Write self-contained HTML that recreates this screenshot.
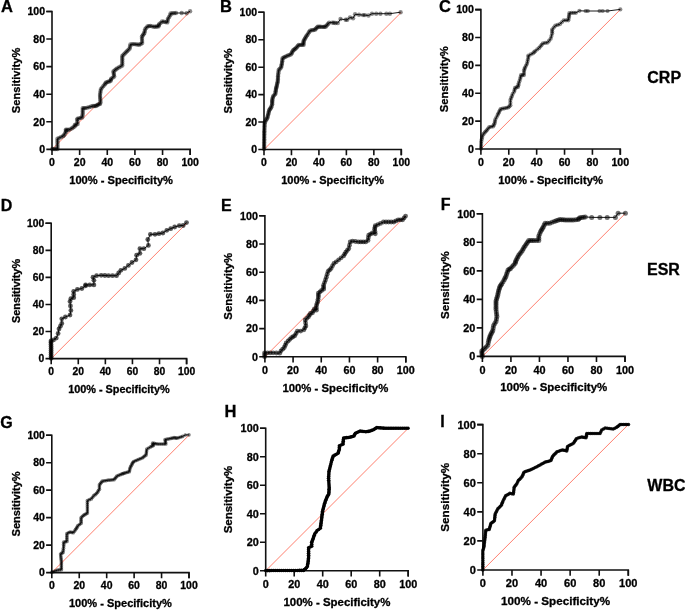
<!DOCTYPE html>
<html><head><meta charset="utf-8"><style>
html,body{margin:0;padding:0;background:#fff;}
svg{display:block;will-change:transform;}
text{stroke:#000;stroke-width:0.3px;}
</style></head><body>
<svg width="685" height="610" viewBox="0 0 685 610" font-family="'Liberation Sans', sans-serif" font-weight="bold" fill="#000">
<rect width="685" height="610" fill="#fff"/>
<line x1="52" y1="149.4" x2="190.2" y2="11.45" stroke="#ff7f6e" stroke-width="1"/>
<path d="M46.3,11.45H52V149.4H190.2V155.1" fill="none" stroke="#111" stroke-width="1.6"/>
<path d="M46.3,149.4H52M52,149.4V155.1M46.3,121.81H52M79.64,149.4V155.1M46.3,94.22H52M107.28,149.4V155.1M46.3,66.63H52M134.92,149.4V155.1M46.3,39.04H52M162.56,149.4V155.1M46.3,11.45H52M190.2,149.4V155.1" fill="none" stroke="#111" stroke-width="1.6"/>
<g font-size="10.52"><text x="45" y="153.16" text-anchor="end">0</text><text x="52" y="166.33" text-anchor="middle">0</text><text x="45" y="125.57" text-anchor="end">20</text><text x="79.64" y="166.33" text-anchor="middle">20</text><text x="45" y="97.98" text-anchor="end">40</text><text x="107.28" y="166.33" text-anchor="middle">40</text><text x="45" y="70.39" text-anchor="end">60</text><text x="134.92" y="166.33" text-anchor="middle">60</text><text x="45" y="42.8" text-anchor="end">80</text><text x="162.56" y="166.33" text-anchor="middle">80</text><text x="45" y="15.21" text-anchor="end">100</text><text x="190.2" y="166.33" text-anchor="middle">100</text></g>
<text x="121.1" y="183.96" text-anchor="middle" font-size="11.12">100% - Specificity%</text>
<text transform="translate(19.7,80.42) rotate(-90)" text-anchor="middle" font-size="11.12">Sensitivity%</text>
<g fill="#000" fill-opacity="0.45"><circle cx="52.3" cy="149" r="2.2"/><circle cx="54.03" cy="149" r="2.2"/><circle cx="55.77" cy="149" r="2.2"/><circle cx="57.5" cy="149" r="2.2"/><circle cx="57.5" cy="146.94" r="2.2"/><circle cx="57.5" cy="144.88" r="2.2"/><circle cx="57.5" cy="142.82" r="2.2"/><circle cx="57.5" cy="140.76" r="2.2"/><circle cx="57.5" cy="138.7" r="2.2"/><circle cx="59.37" cy="137.83" r="2.2"/><circle cx="61.23" cy="136.97" r="2.2"/><circle cx="63.1" cy="136.1" r="2.2"/><circle cx="64" cy="135.2" r="2.2"/><circle cx="64.95" cy="133.55" r="2.2"/><circle cx="65.9" cy="131.9" r="2.2"/><circle cx="65.9" cy="130.75" r="2.2"/><circle cx="65.9" cy="129.6" r="2.2"/><circle cx="67.3" cy="129.8" r="2.2"/><circle cx="68.7" cy="130" r="2.2"/><circle cx="70.35" cy="129.1" r="2.2"/><circle cx="72" cy="128.2" r="2.2"/><circle cx="73.4" cy="127.25" r="2.2"/><circle cx="74.8" cy="126.3" r="2.2"/><circle cx="74.8" cy="124.9" r="2.2"/><circle cx="76.2" cy="124.45" r="2.2"/><circle cx="77.6" cy="124" r="2.2"/><circle cx="77.35" cy="121.9" r="2.2"/><circle cx="77.1" cy="119.8" r="2.2"/><circle cx="77.6" cy="118.8" r="2.2"/><circle cx="79.13" cy="118.33" r="2.2"/><circle cx="80.67" cy="117.87" r="2.2"/><circle cx="82.2" cy="117.4" r="2.2"/><circle cx="82.45" cy="115.55" r="2.2"/><circle cx="82.7" cy="113.7" r="2.2"/><circle cx="82.7" cy="111.83" r="2.2"/><circle cx="82.7" cy="109.97" r="2.2"/><circle cx="82.7" cy="108.1" r="2.2"/><circle cx="84.1" cy="108.1" r="2.2"/><circle cx="85.5" cy="108.1" r="2.2"/><circle cx="87.4" cy="107.6" r="2.2"/><circle cx="89.3" cy="107.1" r="2.2"/><circle cx="91.15" cy="106.55" r="2.2"/><circle cx="93" cy="106" r="2.2"/><circle cx="94.4" cy="106" r="2.2"/><circle cx="95.8" cy="106" r="2.2"/><circle cx="96.75" cy="105.4" r="2.2"/><circle cx="97.7" cy="104.8" r="2.2"/><circle cx="98.85" cy="104.35" r="2.2"/><circle cx="100" cy="103.9" r="2.2"/><circle cx="100.5" cy="102.5" r="2.2"/><circle cx="100.38" cy="100.62" r="2.2"/><circle cx="100.25" cy="98.75" r="2.2"/><circle cx="100.12" cy="96.88" r="2.2"/><circle cx="100" cy="95" r="2.2"/><circle cx="100.3" cy="93.03" r="2.2"/><circle cx="100.6" cy="91.07" r="2.2"/><circle cx="100.9" cy="89.1" r="2.2"/><circle cx="102.13" cy="87.6" r="2.2"/><circle cx="103.37" cy="86.1" r="2.2"/><circle cx="104.6" cy="84.6" r="2.2"/><circle cx="105.35" cy="83.5" r="2.2"/><circle cx="106.1" cy="82.4" r="2.2"/><circle cx="107.57" cy="81.93" r="2.2"/><circle cx="109.03" cy="81.47" r="2.2"/><circle cx="110.5" cy="81" r="2.2"/><circle cx="110.85" cy="79.85" r="2.2"/><circle cx="111.2" cy="78.7" r="2.2"/><circle cx="112.7" cy="77.6" r="2.2"/><circle cx="114.2" cy="76.5" r="2.2"/><circle cx="113.93" cy="74.8" r="2.2"/><circle cx="113.67" cy="73.1" r="2.2"/><circle cx="113.4" cy="71.4" r="2.2"/><circle cx="114.63" cy="70.4" r="2.2"/><circle cx="115.87" cy="69.4" r="2.2"/><circle cx="117.1" cy="68.4" r="2.2"/><circle cx="118.83" cy="67.43" r="2.2"/><circle cx="120.57" cy="66.47" r="2.2"/><circle cx="122.3" cy="65.5" r="2.2"/><circle cx="122.3" cy="63.53" r="2.2"/><circle cx="122.3" cy="61.57" r="2.2"/><circle cx="122.3" cy="59.6" r="2.2"/><circle cx="122.3" cy="57.75" r="2.2"/><circle cx="122.3" cy="55.9" r="2.2"/><circle cx="123.53" cy="54.67" r="2.2"/><circle cx="124.77" cy="53.43" r="2.2"/><circle cx="126" cy="52.2" r="2.2"/><circle cx="127.23" cy="50.97" r="2.2"/><circle cx="128.47" cy="49.73" r="2.2"/><circle cx="129.7" cy="48.5" r="2.2"/><circle cx="130.05" cy="46.5" r="2.2"/><circle cx="130.4" cy="44.5" r="2.2"/><circle cx="132.25" cy="44.3" r="2.2"/><circle cx="134.1" cy="44.1" r="2.2"/><circle cx="135.8" cy="44.33" r="2.2"/><circle cx="137.5" cy="44.57" r="2.2"/><circle cx="139.2" cy="44.8" r="2.2"/><circle cx="140.7" cy="43.95" r="2.2"/><circle cx="142.2" cy="43.1" r="2.2"/><circle cx="142.1" cy="40.97" r="2.2"/><circle cx="142" cy="38.83" r="2.2"/><circle cx="141.9" cy="36.7" r="2.2"/><circle cx="142.73" cy="35.47" r="2.2"/><circle cx="143.57" cy="34.23" r="2.2"/><circle cx="144.4" cy="33" r="2.2"/><circle cx="144.75" cy="31.15" r="2.2"/><circle cx="145.1" cy="29.3" r="2.2"/><circle cx="146.25" cy="27.85" r="2.2"/><circle cx="147.4" cy="26.4" r="2.2"/><circle cx="148.85" cy="26.15" r="2.2"/><circle cx="150.3" cy="25.9" r="2.2"/><circle cx="152.15" cy="26.35" r="2.2"/><circle cx="154" cy="26.8" r="2.2"/><circle cx="155.47" cy="26.67" r="2.2"/><circle cx="156.93" cy="26.53" r="2.2"/><circle cx="158.4" cy="26.4" r="2.2"/><circle cx="158.8" cy="25.3" r="2.2"/><circle cx="159.2" cy="24.2" r="2.2"/><circle cx="160.65" cy="22.85" r="2.2"/><circle cx="162.1" cy="21.5" r="2.2"/><circle cx="163.83" cy="21.8" r="2.2"/><circle cx="165.57" cy="22.1" r="2.2"/><circle cx="167.3" cy="22.4" r="2.2"/><circle cx="167.65" cy="20.5" r="2.2"/><circle cx="168" cy="18.6" r="2.2"/><circle cx="169.1" cy="16.95" r="2.2"/><circle cx="170.2" cy="15.3" r="2.2"/><circle cx="170.6" cy="13.4" r="2.2"/><circle cx="172.4" cy="13.27" r="2.2"/><circle cx="174.2" cy="13.13" r="2.2"/><circle cx="176" cy="13" r="2.2"/><circle cx="181.7" cy="13" r="2.2"/><circle cx="186.6" cy="13.2" r="2.2"/><circle cx="190.1" cy="11.2" r="2.2"/></g>
<path d="M52.3,149 L57.5,149 L57.5,138.7 L63.1,136.1 L64,135.2 L65.9,131.9 L65.9,129.6 L68.7,130 L72,128.2 L74.8,126.3 L74.8,124.9 L77.6,124 L77.1,119.8 L77.6,118.8 L82.2,117.4 L82.7,113.7 L82.7,108.1 L85.5,108.1 L89.3,107.1 L93,106 L95.8,106 L97.7,104.8 L100,103.9 L100.5,102.5 L100,95 L100.9,89.1 L104.6,84.6 L106.1,82.4 L110.5,81 L111.2,78.7 L114.2,76.5 L113.4,71.4 L117.1,68.4 L122.3,65.5 L122.3,59.6 L122.3,55.9 L126,52.2 L129.7,48.5 L130.4,44.5 L134.1,44.1 L139.2,44.8 L142.2,43.1 L141.9,36.7 L144.4,33 L145.1,29.3 L147.4,26.4 L150.3,25.9 L154,26.8 L158.4,26.4 L159.2,24.2 L162.1,21.5 L167.3,22.4 L168,18.6 L170.2,15.3 L170.6,13.4 L176,13 L181.7,13 L186.6,13.2 L190.1,11.2" fill="none" stroke="#000" stroke-width="0.9" stroke-linejoin="round"/>
<line x1="264" y1="149.5" x2="401.3" y2="12.3" stroke="#ff7f6e" stroke-width="1"/>
<path d="M258.3,12.3H264V149.5H401.3V155.2" fill="none" stroke="#111" stroke-width="1.6"/>
<path d="M258.3,149.5H264M264,149.5V155.2M258.3,122.06H264M291.46,149.5V155.2M258.3,94.62H264M318.92,149.5V155.2M258.3,67.18H264M346.38,149.5V155.2M258.3,39.74H264M373.84,149.5V155.2M258.3,12.3H264M401.3,149.5V155.2" fill="none" stroke="#111" stroke-width="1.6"/>
<g font-size="10.45"><text x="257" y="153.24" text-anchor="end">0</text><text x="264" y="166.38" text-anchor="middle">0</text><text x="257" y="125.8" text-anchor="end">20</text><text x="291.46" y="166.38" text-anchor="middle">20</text><text x="257" y="98.36" text-anchor="end">40</text><text x="318.92" y="166.38" text-anchor="middle">40</text><text x="257" y="70.92" text-anchor="end">60</text><text x="346.38" y="166.38" text-anchor="middle">60</text><text x="257" y="43.48" text-anchor="end">80</text><text x="373.84" y="166.38" text-anchor="middle">80</text><text x="257" y="16.04" text-anchor="end">100</text><text x="401.3" y="166.38" text-anchor="middle">100</text></g>
<text x="332.65" y="184.01" text-anchor="middle" font-size="11.04">100% - Specificity%</text>
<text transform="translate(231.91,80.9) rotate(-90)" text-anchor="middle" font-size="11.04">Sensitivity%</text>
<g fill="#000" fill-opacity="0.45"><circle cx="264.1" cy="148.9" r="2.2"/><circle cx="264.12" cy="147.28" r="2.2"/><circle cx="264.14" cy="145.66" r="2.2"/><circle cx="264.16" cy="144.04" r="2.2"/><circle cx="264.18" cy="142.42" r="2.2"/><circle cx="264.2" cy="140.8" r="2.2"/><circle cx="264.22" cy="139.18" r="2.2"/><circle cx="264.24" cy="137.56" r="2.2"/><circle cx="264.26" cy="135.94" r="2.2"/><circle cx="264.28" cy="134.32" r="2.2"/><circle cx="264.3" cy="132.7" r="2.2"/><circle cx="264.35" cy="131.17" r="2.2"/><circle cx="264.4" cy="129.63" r="2.2"/><circle cx="264.45" cy="128.1" r="2.2"/><circle cx="264.5" cy="126.57" r="2.2"/><circle cx="264.55" cy="125.03" r="2.2"/><circle cx="264.6" cy="123.5" r="2.2"/><circle cx="265.1" cy="122" r="2.2"/><circle cx="265.6" cy="120.5" r="2.2"/><circle cx="266.35" cy="119.5" r="2.2"/><circle cx="267.1" cy="118.5" r="2.2"/><circle cx="267.47" cy="117.13" r="2.2"/><circle cx="267.83" cy="115.77" r="2.2"/><circle cx="268.2" cy="114.4" r="2.2"/><circle cx="268.53" cy="113.03" r="2.2"/><circle cx="268.87" cy="111.67" r="2.2"/><circle cx="269.2" cy="110.3" r="2.2"/><circle cx="269.87" cy="109.3" r="2.2"/><circle cx="270.53" cy="108.3" r="2.2"/><circle cx="271.2" cy="107.3" r="2.2"/><circle cx="271.7" cy="105.75" r="2.2"/><circle cx="272.2" cy="104.2" r="2.2"/><circle cx="272.2" cy="102.87" r="2.2"/><circle cx="272.2" cy="101.53" r="2.2"/><circle cx="272.2" cy="100.2" r="2.2"/><circle cx="272.53" cy="98.83" r="2.2"/><circle cx="272.87" cy="97.47" r="2.2"/><circle cx="273.2" cy="96.1" r="2.2"/><circle cx="274.25" cy="95.1" r="2.2"/><circle cx="275.3" cy="94.1" r="2.2"/><circle cx="275.47" cy="92.73" r="2.2"/><circle cx="275.63" cy="91.37" r="2.2"/><circle cx="275.8" cy="90" r="2.2"/><circle cx="276.07" cy="88.8" r="2.2"/><circle cx="276.33" cy="87.6" r="2.2"/><circle cx="276.6" cy="86.4" r="2.2"/><circle cx="276.9" cy="85.08" r="2.2"/><circle cx="277.2" cy="83.75" r="2.2"/><circle cx="277.5" cy="82.42" r="2.2"/><circle cx="277.8" cy="81.1" r="2.2"/><circle cx="277.88" cy="79.6" r="2.2"/><circle cx="277.95" cy="78.1" r="2.2"/><circle cx="278.03" cy="76.6" r="2.2"/><circle cx="278.1" cy="75.1" r="2.2"/><circle cx="278.33" cy="73.33" r="2.2"/><circle cx="278.57" cy="71.57" r="2.2"/><circle cx="278.8" cy="69.8" r="2.2"/><circle cx="279.95" cy="68.65" r="2.2"/><circle cx="281.1" cy="67.5" r="2.2"/><circle cx="281.4" cy="66" r="2.2"/><circle cx="281.7" cy="64.5" r="2.2"/><circle cx="282" cy="63" r="2.2"/><circle cx="282.2" cy="61.37" r="2.2"/><circle cx="282.4" cy="59.73" r="2.2"/><circle cx="282.6" cy="58.1" r="2.2"/><circle cx="283.87" cy="57.47" r="2.2"/><circle cx="285.13" cy="56.83" r="2.2"/><circle cx="286.4" cy="56.2" r="2.2"/><circle cx="287.97" cy="55.57" r="2.2"/><circle cx="289.53" cy="54.93" r="2.2"/><circle cx="291.1" cy="54.3" r="2.2"/><circle cx="291.73" cy="53.03" r="2.2"/><circle cx="292.37" cy="51.77" r="2.2"/><circle cx="293" cy="50.5" r="2.2"/><circle cx="293.97" cy="49.77" r="2.2"/><circle cx="294.93" cy="49.03" r="2.2"/><circle cx="295.9" cy="48.3" r="2.2"/><circle cx="296.83" cy="47.17" r="2.2"/><circle cx="297.77" cy="46.03" r="2.2"/><circle cx="298.7" cy="44.9" r="2.2"/><circle cx="300.3" cy="44.9" r="2.2"/><circle cx="301.9" cy="44.9" r="2.2"/><circle cx="303.5" cy="44.9" r="2.2"/><circle cx="303.5" cy="43.63" r="2.2"/><circle cx="303.5" cy="42.37" r="2.2"/><circle cx="303.5" cy="41.1" r="2.2"/><circle cx="304.2" cy="39.9" r="2.2"/><circle cx="304.9" cy="38.7" r="2.2"/><circle cx="305.6" cy="37.5" r="2.2"/><circle cx="306.3" cy="36.3" r="2.2"/><circle cx="307.25" cy="34.88" r="2.2"/><circle cx="308.2" cy="33.45" r="2.2"/><circle cx="309.15" cy="32.02" r="2.2"/><circle cx="310.1" cy="30.6" r="2.2"/><circle cx="311.7" cy="30.3" r="2.2"/><circle cx="313.3" cy="30" r="2.2"/><circle cx="314.9" cy="29.7" r="2.2"/><circle cx="315.83" cy="28.73" r="2.2"/><circle cx="316.77" cy="27.77" r="2.2"/><circle cx="317.7" cy="26.8" r="2.2"/><circle cx="319.1" cy="26.8" r="2.2"/><circle cx="320.5" cy="26.8" r="2.2"/><circle cx="322.05" cy="26.85" r="2.2"/><circle cx="323.6" cy="26.9" r="2.2"/><circle cx="324.75" cy="26.7" r="2.2"/><circle cx="325.9" cy="26.5" r="2.2"/><circle cx="326.97" cy="25.2" r="2.2"/><circle cx="328.03" cy="23.9" r="2.2"/><circle cx="329.1" cy="22.6" r="2.2"/><circle cx="332.2" cy="22.6" r="2.2"/><circle cx="333.8" cy="22.8" r="2.2"/><circle cx="335.4" cy="23" r="2.2"/><circle cx="337.8" cy="23" r="2.2"/><circle cx="340.5" cy="19" r="2.2"/><circle cx="345.6" cy="19.8" r="2.2"/><circle cx="347.2" cy="19.8" r="2.2"/><circle cx="350" cy="17.5" r="2.2"/><circle cx="353.1" cy="18.2" r="2.2"/><circle cx="355.1" cy="14.3" r="2.2"/><circle cx="359" cy="14.7" r="2.2"/><circle cx="363" cy="15.1" r="2.2"/><circle cx="364.9" cy="15.1" r="2.2"/><circle cx="368.5" cy="15.5" r="2.2"/><circle cx="372" cy="13.7" r="2.2"/><circle cx="376.2" cy="13.7" r="2.2"/><circle cx="380.4" cy="13.7" r="2.2"/><circle cx="386.4" cy="13.7" r="2.2"/><circle cx="389.9" cy="13.7" r="2.2"/><circle cx="400.6" cy="12.2" r="2.2"/></g>
<path d="M264.1,148.9 L264.3,132.7 L264.6,123.5 L265.6,120.5 L267.1,118.5 L268.2,114.4 L269.2,110.3 L271.2,107.3 L272.2,104.2 L272.2,100.2 L273.2,96.1 L275.3,94.1 L275.8,90 L276.6,86.4 L277.8,81.1 L278.1,75.1 L278.8,69.8 L281.1,67.5 L282,63 L282.6,58.1 L286.4,56.2 L291.1,54.3 L293,50.5 L295.9,48.3 L298.7,44.9 L303.5,44.9 L303.5,41.1 L306.3,36.3 L310.1,30.6 L314.9,29.7 L317.7,26.8 L320.5,26.8 L323.6,26.9 L325.9,26.5 L329.1,22.6 L332.2,22.6 L333.8,22.8 L335.4,23 L337.8,23 L340.5,19 L345.6,19.8 L347.2,19.8 L350,17.5 L353.1,18.2 L355.1,14.3 L359,14.7 L363,15.1 L364.9,15.1 L368.5,15.5 L372,13.7 L376.2,13.7 L380.4,13.7 L386.4,13.7 L389.9,13.7 L400.6,12.2" fill="none" stroke="#000" stroke-width="0.9" stroke-linejoin="round"/>
<line x1="480.9" y1="149" x2="620.3" y2="9.6" stroke="#ff7f6e" stroke-width="1"/>
<path d="M475.2,9.6H480.9V149H620.3V154.7" fill="none" stroke="#111" stroke-width="1.6"/>
<path d="M475.2,149H480.9M480.9,149V154.7M475.2,121.12H480.9M508.78,149V154.7M475.2,93.24H480.9M536.66,149V154.7M475.2,65.36H480.9M564.54,149V154.7M475.2,37.48H480.9M592.42,149V154.7M475.2,9.6H480.9M620.3,149V154.7" fill="none" stroke="#111" stroke-width="1.6"/>
<g font-size="10.61"><text x="473.9" y="152.8" text-anchor="end">0</text><text x="480.9" y="165.99" text-anchor="middle">0</text><text x="473.9" y="124.92" text-anchor="end">20</text><text x="508.78" y="165.99" text-anchor="middle">20</text><text x="473.9" y="97.04" text-anchor="end">40</text><text x="536.66" y="165.99" text-anchor="middle">40</text><text x="473.9" y="69.16" text-anchor="end">60</text><text x="564.54" y="165.99" text-anchor="middle">60</text><text x="473.9" y="41.28" text-anchor="end">80</text><text x="592.42" y="165.99" text-anchor="middle">80</text><text x="473.9" y="13.4" text-anchor="end">100</text><text x="620.3" y="165.99" text-anchor="middle">100</text></g>
<text x="550.6" y="183.63" text-anchor="middle" font-size="11.21">100% - Specificity%</text>
<text transform="translate(448.32,79.3) rotate(-90)" text-anchor="middle" font-size="11.21">Sensitivity%</text>
<g fill="#000" fill-opacity="0.45"><circle cx="481" cy="148.7" r="2.1"/><circle cx="481.1" cy="146.3" r="2.1"/><circle cx="481.2" cy="143.9" r="2.1"/><circle cx="481.3" cy="141.5" r="2.1"/><circle cx="481.7" cy="139.47" r="2.1"/><circle cx="482.1" cy="137.43" r="2.1"/><circle cx="482.5" cy="135.4" r="2.1"/><circle cx="483.65" cy="133.9" r="2.1"/><circle cx="484.8" cy="132.4" r="2.1"/><circle cx="485.9" cy="131.25" r="2.1"/><circle cx="487" cy="130.1" r="2.1"/><circle cx="488.15" cy="128.6" r="2.1"/><circle cx="489.3" cy="127.1" r="2.1"/><circle cx="491.2" cy="126.75" r="2.1"/><circle cx="493.1" cy="126.4" r="2.1"/><circle cx="493.85" cy="124.9" r="2.1"/><circle cx="494.6" cy="123.4" r="2.1"/><circle cx="494.95" cy="121.5" r="2.1"/><circle cx="495.3" cy="119.6" r="2.1"/><circle cx="496.45" cy="117.35" r="2.1"/><circle cx="497.6" cy="115.1" r="2.1"/><circle cx="498.35" cy="113.55" r="2.1"/><circle cx="499.1" cy="112" r="2.1"/><circle cx="499.85" cy="110.5" r="2.1"/><circle cx="500.6" cy="109" r="2.1"/><circle cx="502.5" cy="108.65" r="2.1"/><circle cx="504.4" cy="108.3" r="2.1"/><circle cx="506.3" cy="107.9" r="2.1"/><circle cx="508.2" cy="107.5" r="2.1"/><circle cx="509.3" cy="106.4" r="2.1"/><circle cx="510.4" cy="105.3" r="2.1"/><circle cx="510.4" cy="102.65" r="2.1"/><circle cx="510.4" cy="100" r="2.1"/><circle cx="511.15" cy="98.1" r="2.1"/><circle cx="511.9" cy="96.2" r="2.1"/><circle cx="512.7" cy="93.9" r="2.1"/><circle cx="514.2" cy="91.7" r="2.1"/><circle cx="514.6" cy="89.8" r="2.1"/><circle cx="515" cy="87.9" r="2.1"/><circle cx="516.5" cy="87.4" r="2.1"/><circle cx="518" cy="86.9" r="2.1"/><circle cx="518.35" cy="85.15" r="2.1"/><circle cx="518.7" cy="83.4" r="2.1"/><circle cx="519.45" cy="81.15" r="2.1"/><circle cx="520.2" cy="78.9" r="2.1"/><circle cx="520.6" cy="77" r="2.1"/><circle cx="521" cy="75.1" r="2.1"/><circle cx="522.5" cy="75.1" r="2.1"/><circle cx="524" cy="75.1" r="2.1"/><circle cx="524" cy="72.85" r="2.1"/><circle cx="524" cy="70.6" r="2.1"/><circle cx="524.5" cy="69.1" r="2.1"/><circle cx="525" cy="67.6" r="2.1"/><circle cx="526" cy="65.7" r="2.1"/><circle cx="527" cy="63.8" r="2.1"/><circle cx="527.47" cy="61.57" r="2.1"/><circle cx="527.93" cy="59.33" r="2.1"/><circle cx="528.4" cy="57.1" r="2.1"/><circle cx="528.4" cy="55.6" r="2.1"/><circle cx="530.7" cy="54.45" r="2.1"/><circle cx="533" cy="53.3" r="2.1"/><circle cx="534.15" cy="52.15" r="2.1"/><circle cx="535.3" cy="51" r="2.1"/><circle cx="537.25" cy="49.45" r="2.1"/><circle cx="539.2" cy="47.9" r="2.1"/><circle cx="540.47" cy="46.37" r="2.1"/><circle cx="541.73" cy="44.83" r="2.1"/><circle cx="543" cy="43.3" r="2.1"/><circle cx="545.3" cy="42.95" r="2.1"/><circle cx="547.6" cy="42.6" r="2.1"/><circle cx="549.15" cy="40.65" r="2.1"/><circle cx="550.7" cy="38.7" r="2.1"/><circle cx="551.45" cy="36.05" r="2.1"/><circle cx="552.2" cy="33.4" r="2.1"/><circle cx="552.2" cy="31.45" r="2.1"/><circle cx="552.2" cy="29.5" r="2.1"/><circle cx="553.75" cy="27.6" r="2.1"/><circle cx="555.3" cy="25.7" r="2.1"/><circle cx="557.6" cy="24.95" r="2.1"/><circle cx="559.9" cy="24.2" r="2.1"/><circle cx="561.8" cy="22.25" r="2.1"/><circle cx="563.7" cy="20.3" r="2.1"/><circle cx="566" cy="20.3" r="2.1"/><circle cx="568.3" cy="20.3" r="2.1"/><circle cx="568.65" cy="18.4" r="2.1"/><circle cx="569" cy="16.5" r="2.1"/><circle cx="569.2" cy="14.75" r="2.1"/><circle cx="569.4" cy="13" r="2.1"/><circle cx="571.6" cy="12.9" r="2.1"/><circle cx="573.8" cy="12.8" r="2.1"/><circle cx="575.9" cy="12.8" r="2.1"/><circle cx="579.4" cy="10.8" r="2.1"/><circle cx="585.6" cy="11" r="2.1"/><circle cx="587.8" cy="11" r="2.1"/><circle cx="599.6" cy="11" r="2.1"/><circle cx="602.7" cy="11" r="2.1"/><circle cx="607.5" cy="11" r="2.1"/><circle cx="620.3" cy="9.4" r="2.1"/></g>
<path d="M481,148.7 L481.3,141.5 L482.5,135.4 L484.8,132.4 L487,130.1 L489.3,127.1 L493.1,126.4 L494.6,123.4 L495.3,119.6 L497.6,115.1 L499.1,112 L500.6,109 L504.4,108.3 L508.2,107.5 L510.4,105.3 L510.4,100 L511.9,96.2 L512.7,93.9 L514.2,91.7 L515,87.9 L518,86.9 L518.7,83.4 L520.2,78.9 L521,75.1 L524,75.1 L524,70.6 L525,67.6 L527,63.8 L528.4,57.1 L528.4,55.6 L533,53.3 L535.3,51 L539.2,47.9 L543,43.3 L547.6,42.6 L550.7,38.7 L552.2,33.4 L552.2,29.5 L555.3,25.7 L559.9,24.2 L563.7,20.3 L568.3,20.3 L569,16.5 L569.4,13 L573.8,12.8 L575.9,12.8 L579.4,10.8 L585.6,11 L587.8,11 L599.6,11 L602.7,11 L607.5,11 L620.3,9.4" fill="none" stroke="#000" stroke-width="0.9" stroke-linejoin="round"/>
<line x1="51.2" y1="358.6" x2="186.6" y2="223.3" stroke="#ff7f6e" stroke-width="1"/>
<path d="M45.5,223.3H51.2V358.6H186.6V364.3" fill="none" stroke="#111" stroke-width="1.6"/>
<path d="M45.5,358.6H51.2M51.2,358.6V364.3M45.5,331.54H51.2M78.28,358.6V364.3M45.5,304.48H51.2M105.36,358.6V364.3M45.5,277.42H51.2M132.44,358.6V364.3M45.5,250.36H51.2M159.52,358.6V364.3M45.5,223.3H51.2M186.6,358.6V364.3" fill="none" stroke="#111" stroke-width="1.6"/>
<g font-size="10.3"><text x="44.2" y="362.29" text-anchor="end">0</text><text x="51.2" y="375.38" text-anchor="middle">0</text><text x="44.2" y="335.23" text-anchor="end">20</text><text x="78.28" y="375.38" text-anchor="middle">20</text><text x="44.2" y="308.17" text-anchor="end">40</text><text x="105.36" y="375.38" text-anchor="middle">40</text><text x="44.2" y="281.11" text-anchor="end">60</text><text x="132.44" y="375.38" text-anchor="middle">60</text><text x="44.2" y="254.05" text-anchor="end">80</text><text x="159.52" y="375.38" text-anchor="middle">80</text><text x="44.2" y="226.99" text-anchor="end">100</text><text x="186.6" y="375.38" text-anchor="middle">100</text></g>
<text x="118.9" y="393" text-anchor="middle" font-size="10.89">100% - Specificity%</text>
<text transform="translate(19.56,290.95) rotate(-90)" text-anchor="middle" font-size="10.89">Sensitivity%</text>
<g fill="#000" fill-opacity="0.65"><circle cx="51.2" cy="358.3" r="2.4"/><circle cx="51.1" cy="356.5" r="2.4"/><circle cx="51.1" cy="354.5" r="2.4"/><circle cx="51.1" cy="352.5" r="2.4"/><circle cx="51.1" cy="350.5" r="2.4"/><circle cx="51.1" cy="348.5" r="2.4"/><circle cx="51.1" cy="346.5" r="2.4"/><circle cx="51" cy="344.5" r="2.4"/><circle cx="51" cy="342.5" r="2.4"/><circle cx="51" cy="341" r="2.4"/><circle cx="53.5" cy="339.9" r="2.4"/><circle cx="56.3" cy="338.1" r="2.4"/><circle cx="58.1" cy="333.5" r="2.4"/><circle cx="59" cy="328.9" r="2.4"/><circle cx="60.4" cy="326.15" r="2.4"/><circle cx="61.8" cy="323.4" r="2.4"/><circle cx="61.8" cy="318.8" r="2.4"/><circle cx="65.4" cy="317" r="2.4"/><circle cx="70" cy="315.1" r="2.4"/><circle cx="70.9" cy="310.5" r="2.4"/><circle cx="70.45" cy="305.95" r="2.4"/><circle cx="70" cy="301.4" r="2.4"/><circle cx="70.9" cy="298.6" r="2.4"/><circle cx="73.7" cy="297.7" r="2.4"/><circle cx="73.7" cy="294.5" r="2.4"/><circle cx="73.7" cy="291.3" r="2.4"/><circle cx="77.4" cy="289.4" r="2.4"/><circle cx="81.9" cy="288.5" r="2.4"/><circle cx="85.6" cy="285.8" r="2.4"/><circle cx="85.6" cy="284.9" r="2.4"/><circle cx="89.75" cy="284.9" r="2.4"/><circle cx="93.9" cy="284.9" r="2.4"/><circle cx="93.9" cy="280.3" r="2.4"/><circle cx="93" cy="277.2" r="2.4"/><circle cx="96.6" cy="275.7" r="2.4"/><circle cx="101.2" cy="275.3" r="2.4"/><circle cx="104.85" cy="275.5" r="2.4"/><circle cx="108.5" cy="275.7" r="2.4"/><circle cx="112.5" cy="275.7" r="2.4"/><circle cx="116.5" cy="275.7" r="2.4"/><circle cx="118.7" cy="273" r="2.4"/><circle cx="120.9" cy="270.3" r="2.4"/><circle cx="124.8" cy="268.4" r="2.4"/><circle cx="128.4" cy="265.45" r="2.4"/><circle cx="132" cy="262.5" r="2.4"/><circle cx="136" cy="259.8" r="2.4"/><circle cx="136.6" cy="255.2" r="2.4"/><circle cx="139.9" cy="253.3" r="2.4"/><circle cx="139.9" cy="248.7" r="2.4"/><circle cx="143.9" cy="248.7" r="2.4"/><circle cx="148.4" cy="245.4" r="2.4"/><circle cx="147.8" cy="239.5" r="2.4"/><circle cx="150.4" cy="234.3" r="2.4"/><circle cx="155" cy="234.3" r="2.4"/><circle cx="158.95" cy="233.65" r="2.4"/><circle cx="162.9" cy="233" r="2.4"/><circle cx="166.8" cy="230.3" r="2.4"/><circle cx="170.75" cy="228.65" r="2.4"/><circle cx="174.7" cy="227" r="2.4"/><circle cx="179.3" cy="225.7" r="2.4"/><circle cx="183.2" cy="225.5" r="2.4"/><circle cx="186.5" cy="222.6" r="2.4"/></g>
<path d="M51.2,358.3 L51.1,356.5 L51.1,354.5 L51.1,352.5 L51.1,350.5 L51.1,348.5 L51.1,346.5 L51,344.5 L51,342.5 L51,341 L53.5,339.9 L56.3,338.1 L58.1,333.5 L59,328.9 L61.8,323.4 L61.8,318.8 L65.4,317 L70,315.1 L70.9,310.5 L70,301.4 L70.9,298.6 L73.7,297.7 L73.7,291.3 L77.4,289.4 L81.9,288.5 L85.6,285.8 L85.6,284.9 L93.9,284.9 L93.9,280.3 L93,277.2 L96.6,275.7 L101.2,275.3 L108.5,275.7 L116.5,275.7 L120.9,270.3 L124.8,268.4 L132,262.5 L136,259.8 L136.6,255.2 L139.9,253.3 L139.9,248.7 L143.9,248.7 L148.4,245.4 L147.8,239.5 L150.4,234.3 L155,234.3 L162.9,233 L166.8,230.3 L174.7,227 L179.3,225.7 L183.2,225.5 L186.5,222.6" fill="none" stroke="#000" stroke-width="0.9" stroke-linejoin="round"/>
<line x1="264.9" y1="356.8" x2="405.8" y2="215.8" stroke="#ff7f6e" stroke-width="1"/>
<path d="M259.2,215.8H264.9V356.8H405.8V362.5" fill="none" stroke="#111" stroke-width="1.6"/>
<path d="M259.2,356.8H264.9M264.9,356.8V362.5M259.2,328.6H264.9M293.08,356.8V362.5M259.2,300.4H264.9M321.26,356.8V362.5M259.2,272.2H264.9M349.44,356.8V362.5M259.2,244H264.9M377.62,356.8V362.5M259.2,215.8H264.9M405.8,356.8V362.5" fill="none" stroke="#111" stroke-width="1.6"/>
<g font-size="10.72"><text x="257.9" y="360.64" text-anchor="end">0</text><text x="264.9" y="373.88" text-anchor="middle">0</text><text x="257.9" y="332.44" text-anchor="end">20</text><text x="293.08" y="373.88" text-anchor="middle">20</text><text x="257.9" y="304.24" text-anchor="end">40</text><text x="321.26" y="373.88" text-anchor="middle">40</text><text x="257.9" y="276.04" text-anchor="end">60</text><text x="349.44" y="373.88" text-anchor="middle">60</text><text x="257.9" y="247.84" text-anchor="end">80</text><text x="377.62" y="373.88" text-anchor="middle">80</text><text x="257.9" y="219.64" text-anchor="end">100</text><text x="405.8" y="373.88" text-anchor="middle">100</text></g>
<text x="335.35" y="391.51" text-anchor="middle" font-size="11.33">100% - Specificity%</text>
<text transform="translate(231.97,286.3) rotate(-90)" text-anchor="middle" font-size="11.33">Sensitivity%</text>
<g fill="#000" fill-opacity="0.6"><circle cx="264.6" cy="356.7" r="2.4"/><circle cx="264.6" cy="354.75" r="2.4"/><circle cx="264.6" cy="352.8" r="2.4"/><circle cx="267.43" cy="352.8" r="2.4"/><circle cx="270.27" cy="352.8" r="2.4"/><circle cx="273.1" cy="352.8" r="2.4"/><circle cx="276.4" cy="353" r="2.4"/><circle cx="279.7" cy="353.2" r="2.4"/><circle cx="281" cy="350.8" r="2.4"/><circle cx="282.65" cy="349.15" r="2.4"/><circle cx="284.3" cy="347.5" r="2.4"/><circle cx="285.25" cy="345.25" r="2.4"/><circle cx="286.2" cy="343" r="2.4"/><circle cx="288.2" cy="341" r="2.4"/><circle cx="289.85" cy="339.35" r="2.4"/><circle cx="291.5" cy="337.7" r="2.4"/><circle cx="293.15" cy="336.7" r="2.4"/><circle cx="294.8" cy="335.7" r="2.4"/><circle cx="296.1" cy="333.4" r="2.4"/><circle cx="297.4" cy="331.1" r="2.4"/><circle cx="300.7" cy="331.1" r="2.4"/><circle cx="303.9" cy="329.8" r="2.4"/><circle cx="304.9" cy="327.85" r="2.4"/><circle cx="305.9" cy="325.9" r="2.4"/><circle cx="305.55" cy="322.95" r="2.4"/><circle cx="305.2" cy="320" r="2.4"/><circle cx="306.85" cy="318.35" r="2.4"/><circle cx="308.5" cy="316.7" r="2.4"/><circle cx="309.5" cy="315.05" r="2.4"/><circle cx="310.5" cy="313.4" r="2.4"/><circle cx="312.5" cy="312.8" r="2.4"/><circle cx="313.45" cy="310.85" r="2.4"/><circle cx="314.4" cy="308.9" r="2.4"/><circle cx="316.4" cy="310.2" r="2.4"/><circle cx="316.4" cy="307.9" r="2.4"/><circle cx="316.4" cy="305.6" r="2.4"/><circle cx="317.05" cy="303.6" r="2.4"/><circle cx="317.7" cy="301.6" r="2.4"/><circle cx="318.05" cy="299.3" r="2.4"/><circle cx="318.4" cy="297" r="2.4"/><circle cx="318.4" cy="295.05" r="2.4"/><circle cx="318.4" cy="293.1" r="2.4"/><circle cx="320" cy="291.8" r="2.4"/><circle cx="321.6" cy="290.5" r="2.4"/><circle cx="323.6" cy="289.2" r="2.4"/><circle cx="323.6" cy="287.2" r="2.4"/><circle cx="323.6" cy="285.2" r="2.4"/><circle cx="324.55" cy="282.6" r="2.4"/><circle cx="325.5" cy="280" r="2.4"/><circle cx="326.37" cy="277.13" r="2.4"/><circle cx="327.23" cy="274.27" r="2.4"/><circle cx="328.1" cy="271.4" r="2.4"/><circle cx="329.6" cy="269.9" r="2.4"/><circle cx="331.1" cy="268.4" r="2.4"/><circle cx="332.55" cy="265.85" r="2.4"/><circle cx="334" cy="263.3" r="2.4"/><circle cx="336.2" cy="261.8" r="2.4"/><circle cx="338.67" cy="259.83" r="2.4"/><circle cx="341.13" cy="257.87" r="2.4"/><circle cx="343.6" cy="255.9" r="2.4"/><circle cx="344.7" cy="254.05" r="2.4"/><circle cx="345.8" cy="252.2" r="2.4"/><circle cx="347.3" cy="250.35" r="2.4"/><circle cx="348.8" cy="248.5" r="2.4"/><circle cx="349.5" cy="245.2" r="2.4"/><circle cx="350.2" cy="241.9" r="2.4"/><circle cx="352.5" cy="241.1" r="2.4"/><circle cx="355.45" cy="241.5" r="2.4"/><circle cx="358.4" cy="241.9" r="2.4"/><circle cx="360.83" cy="241.9" r="2.4"/><circle cx="363.27" cy="241.9" r="2.4"/><circle cx="365.7" cy="241.9" r="2.4"/><circle cx="368" cy="240.4" r="2.4"/><circle cx="368.35" cy="237.8" r="2.4"/><circle cx="368.7" cy="235.2" r="2.4"/><circle cx="370.55" cy="234.1" r="2.4"/><circle cx="372.4" cy="233" r="2.4"/><circle cx="375.3" cy="233.8" r="2.4"/><circle cx="374.95" cy="231.55" r="2.4"/><circle cx="374.6" cy="229.3" r="2.4"/><circle cx="374.95" cy="227.5" r="2.4"/><circle cx="375.3" cy="225.7" r="2.4"/><circle cx="377.9" cy="224.55" r="2.4"/><circle cx="380.5" cy="223.4" r="2.4"/><circle cx="383.4" cy="222" r="2.4"/><circle cx="386" cy="222" r="2.4"/><circle cx="388.6" cy="222" r="2.4"/><circle cx="391.2" cy="222" r="2.4"/><circle cx="393.8" cy="222" r="2.4"/><circle cx="396" cy="220.9" r="2.4"/><circle cx="398.2" cy="219.8" r="2.4"/><circle cx="400.4" cy="219.8" r="2.4"/><circle cx="402.6" cy="219.8" r="2.4"/><circle cx="404.1" cy="217.95" r="2.4"/><circle cx="405.6" cy="216.1" r="2.4"/></g>
<path d="M264.6,356.7 L264.6,352.8 L273.1,352.8 L279.7,353.2 L281,350.8 L284.3,347.5 L286.2,343 L288.2,341 L291.5,337.7 L294.8,335.7 L297.4,331.1 L300.7,331.1 L303.9,329.8 L305.9,325.9 L305.2,320 L308.5,316.7 L310.5,313.4 L312.5,312.8 L314.4,308.9 L316.4,310.2 L316.4,305.6 L317.7,301.6 L318.4,297 L318.4,293.1 L321.6,290.5 L323.6,289.2 L323.6,285.2 L325.5,280 L328.1,271.4 L331.1,268.4 L334,263.3 L336.2,261.8 L343.6,255.9 L345.8,252.2 L348.8,248.5 L350.2,241.9 L352.5,241.1 L358.4,241.9 L365.7,241.9 L368,240.4 L368.7,235.2 L372.4,233 L375.3,233.8 L374.6,229.3 L375.3,225.7 L380.5,223.4 L383.4,222 L388.6,222 L393.8,222 L398.2,219.8 L402.6,219.8 L405.6,216.1" fill="none" stroke="#000" stroke-width="0.9" stroke-linejoin="round"/>
<line x1="482.4" y1="356.4" x2="625" y2="213.8" stroke="#ff7f6e" stroke-width="1"/>
<path d="M476.7,213.8H482.4V356.4H625V362.1" fill="none" stroke="#111" stroke-width="1.6"/>
<path d="M476.7,356.4H482.4M482.4,356.4V362.1M476.7,327.88H482.4M510.92,356.4V362.1M476.7,299.36H482.4M539.44,356.4V362.1M476.7,270.84H482.4M567.96,356.4V362.1M476.7,242.32H482.4M596.48,356.4V362.1M476.7,213.8H482.4M625,356.4V362.1" fill="none" stroke="#111" stroke-width="1.6"/>
<g font-size="10.85"><text x="475.4" y="360.28" text-anchor="end">0</text><text x="482.4" y="373.57" text-anchor="middle">0</text><text x="475.4" y="331.76" text-anchor="end">20</text><text x="510.92" y="373.57" text-anchor="middle">20</text><text x="475.4" y="303.24" text-anchor="end">40</text><text x="539.44" y="373.57" text-anchor="middle">40</text><text x="475.4" y="274.72" text-anchor="end">60</text><text x="567.96" y="373.57" text-anchor="middle">60</text><text x="475.4" y="246.2" text-anchor="end">80</text><text x="596.48" y="373.57" text-anchor="middle">80</text><text x="475.4" y="217.68" text-anchor="end">100</text><text x="625" y="373.57" text-anchor="middle">100</text></g>
<text x="553.7" y="391.21" text-anchor="middle" font-size="11.47">100% - Specificity%</text>
<text transform="translate(449.07,285.1) rotate(-90)" text-anchor="middle" font-size="11.47">Sensitivity%</text>
<g fill="#000" fill-opacity="0.55"><circle cx="482.2" cy="356.4" r="2.5"/><circle cx="482.07" cy="354.6" r="2.5"/><circle cx="481.93" cy="352.8" r="2.5"/><circle cx="481.8" cy="351" r="2.5"/><circle cx="483.2" cy="349.8" r="2.5"/><circle cx="484.6" cy="348.6" r="2.5"/><circle cx="486.2" cy="346.95" r="2.5"/><circle cx="487.8" cy="345.3" r="2.5"/><circle cx="488.25" cy="342.85" r="2.5"/><circle cx="488.7" cy="340.4" r="2.5"/><circle cx="489.23" cy="338.73" r="2.5"/><circle cx="489.77" cy="337.07" r="2.5"/><circle cx="490.3" cy="335.4" r="2.5"/><circle cx="491.13" cy="333.77" r="2.5"/><circle cx="491.97" cy="332.13" r="2.5"/><circle cx="492.8" cy="330.5" r="2.5"/><circle cx="493.2" cy="328.05" r="2.5"/><circle cx="493.6" cy="325.6" r="2.5"/><circle cx="494.8" cy="323.55" r="2.5"/><circle cx="496" cy="321.5" r="2.5"/><circle cx="496.45" cy="319.05" r="2.5"/><circle cx="496.9" cy="316.6" r="2.5"/><circle cx="496.6" cy="314.13" r="2.5"/><circle cx="496.3" cy="311.67" r="2.5"/><circle cx="496" cy="309.2" r="2.5"/><circle cx="496" cy="307.15" r="2.5"/><circle cx="496" cy="305.1" r="2.5"/><circle cx="496" cy="303.05" r="2.5"/><circle cx="496" cy="301" r="2.5"/><circle cx="496.57" cy="299.1" r="2.5"/><circle cx="497.13" cy="297.2" r="2.5"/><circle cx="497.7" cy="295.3" r="2.5"/><circle cx="498.1" cy="293.25" r="2.5"/><circle cx="498.5" cy="291.2" r="2.5"/><circle cx="499.03" cy="289.53" r="2.5"/><circle cx="499.57" cy="287.87" r="2.5"/><circle cx="500.1" cy="286.2" r="2.5"/><circle cx="500.95" cy="285" r="2.5"/><circle cx="501.8" cy="283.8" r="2.5"/><circle cx="503" cy="281.75" r="2.5"/><circle cx="504.2" cy="279.7" r="2.5"/><circle cx="505.05" cy="278.05" r="2.5"/><circle cx="505.9" cy="276.4" r="2.5"/><circle cx="506.6" cy="274.27" r="2.5"/><circle cx="507.3" cy="272.13" r="2.5"/><circle cx="508" cy="270" r="2.5"/><circle cx="509.25" cy="269.25" r="2.5"/><circle cx="510.5" cy="268.5" r="2.5"/><circle cx="512" cy="266.87" r="2.5"/><circle cx="513.5" cy="265.23" r="2.5"/><circle cx="515" cy="263.6" r="2.5"/><circle cx="515.5" cy="262.05" r="2.5"/><circle cx="516" cy="260.5" r="2.5"/><circle cx="516.9" cy="258.73" r="2.5"/><circle cx="517.8" cy="256.97" r="2.5"/><circle cx="518.7" cy="255.2" r="2.5"/><circle cx="519.9" cy="253.67" r="2.5"/><circle cx="521.1" cy="252.13" r="2.5"/><circle cx="522.3" cy="250.6" r="2.5"/><circle cx="523.25" cy="248.8" r="2.5"/><circle cx="524.2" cy="247" r="2.5"/><circle cx="525.33" cy="245.4" r="2.5"/><circle cx="526.45" cy="243.8" r="2.5"/><circle cx="527.58" cy="242.2" r="2.5"/><circle cx="528.7" cy="240.6" r="2.5"/><circle cx="530.53" cy="240.6" r="2.5"/><circle cx="532.37" cy="240.6" r="2.5"/><circle cx="534.2" cy="240.6" r="2.5"/><circle cx="536.5" cy="240.6" r="2.5"/><circle cx="538.8" cy="240.6" r="2.5"/><circle cx="538.8" cy="238.3" r="2.5"/><circle cx="538.8" cy="236" r="2.5"/><circle cx="539.7" cy="233.75" r="2.5"/><circle cx="540.6" cy="231.5" r="2.5"/><circle cx="541.5" cy="229.97" r="2.5"/><circle cx="542.4" cy="228.43" r="2.5"/><circle cx="543.3" cy="226.9" r="2.5"/><circle cx="544.2" cy="225.05" r="2.5"/><circle cx="545.1" cy="223.2" r="2.5"/><circle cx="547.4" cy="223.2" r="2.5"/><circle cx="549.7" cy="223.2" r="2.5"/><circle cx="552" cy="222.3" r="2.5"/><circle cx="554.3" cy="221.4" r="2.5"/><circle cx="556.1" cy="220.8" r="2.5"/><circle cx="557.9" cy="220.2" r="2.5"/><circle cx="559.7" cy="219.6" r="2.5"/><circle cx="561.53" cy="219.73" r="2.5"/><circle cx="563.37" cy="219.87" r="2.5"/><circle cx="565.2" cy="220" r="2.5"/><circle cx="567.25" cy="220" r="2.5"/><circle cx="569.3" cy="220" r="2.5"/><circle cx="571.35" cy="220" r="2.5"/><circle cx="573.4" cy="220" r="2.5"/><circle cx="575.7" cy="219.8" r="2.5"/><circle cx="578" cy="219.6" r="2.5"/><circle cx="578.9" cy="218.7" r="2.5"/><circle cx="579.8" cy="217.8" r="2.5"/><circle cx="581.63" cy="217.5" r="2.5"/><circle cx="583.47" cy="217.2" r="2.5"/><circle cx="585.3" cy="216.9" r="2.5"/><circle cx="591.7" cy="217.4" r="2.5"/><circle cx="599.9" cy="217.4" r="2.5"/><circle cx="607.2" cy="217.4" r="2.5"/><circle cx="615.4" cy="217.4" r="2.5"/><circle cx="618.1" cy="213.2" r="2.5"/><circle cx="625.4" cy="213.2" r="2.5"/></g>
<path d="M482.2,356.4 L481.8,351 L484.6,348.6 L487.8,345.3 L488.7,340.4 L490.3,335.4 L492.8,330.5 L493.6,325.6 L496,321.5 L496.9,316.6 L496,309.2 L496,301 L497.7,295.3 L498.5,291.2 L500.1,286.2 L501.8,283.8 L504.2,279.7 L505.9,276.4 L508,270 L510.5,268.5 L515,263.6 L516,260.5 L518.7,255.2 L522.3,250.6 L524.2,247 L528.7,240.6 L534.2,240.6 L538.8,240.6 L538.8,236 L540.6,231.5 L543.3,226.9 L545.1,223.2 L549.7,223.2 L554.3,221.4 L559.7,219.6 L565.2,220 L573.4,220 L578,219.6 L579.8,217.8 L585.3,216.9 L591.7,217.4 L599.9,217.4 L607.2,217.4 L615.4,217.4 L618.1,213.2 L625.4,213.2" fill="none" stroke="#000" stroke-width="0.9" stroke-linejoin="round"/>
<line x1="51.8" y1="572.6" x2="189" y2="435.2" stroke="#ff7f6e" stroke-width="1"/>
<path d="M46.1,435.2H51.8V572.6H189V578.3" fill="none" stroke="#111" stroke-width="1.6"/>
<path d="M46.1,572.6H51.8M51.8,572.6V578.3M46.1,545.12H51.8M79.24,572.6V578.3M46.1,517.64H51.8M106.68,572.6V578.3M46.1,490.16H51.8M134.12,572.6V578.3M46.1,462.68H51.8M161.56,572.6V578.3M46.1,435.2H51.8M189,572.6V578.3" fill="none" stroke="#111" stroke-width="1.6"/>
<g font-size="10.44"><text x="44.8" y="576.34" text-anchor="end">0</text><text x="51.8" y="589.47" text-anchor="middle">0</text><text x="44.8" y="548.86" text-anchor="end">20</text><text x="79.24" y="589.47" text-anchor="middle">20</text><text x="44.8" y="521.38" text-anchor="end">40</text><text x="106.68" y="589.47" text-anchor="middle">40</text><text x="44.8" y="493.9" text-anchor="end">60</text><text x="134.12" y="589.47" text-anchor="middle">60</text><text x="44.8" y="466.42" text-anchor="end">80</text><text x="161.56" y="589.47" text-anchor="middle">80</text><text x="44.8" y="438.94" text-anchor="end">100</text><text x="189" y="589.47" text-anchor="middle">100</text></g>
<text x="120.4" y="607.1" text-anchor="middle" font-size="11.04">100% - Specificity%</text>
<text transform="translate(19.73,503.9) rotate(-90)" text-anchor="middle" font-size="11.04">Sensitivity%</text>
<g fill="#000" fill-opacity="0.5"><circle cx="51.8" cy="572.2" r="1.85"/><circle cx="53.67" cy="571.5" r="1.85"/><circle cx="55.53" cy="570.8" r="1.85"/><circle cx="57.4" cy="570.1" r="1.85"/><circle cx="59.4" cy="569.9" r="1.85"/><circle cx="61.4" cy="569.7" r="1.85"/><circle cx="61.4" cy="567.75" r="1.85"/><circle cx="61.4" cy="565.8" r="1.85"/><circle cx="61.4" cy="563.85" r="1.85"/><circle cx="61.4" cy="561.9" r="1.85"/><circle cx="61.2" cy="559.92" r="1.85"/><circle cx="61" cy="557.95" r="1.85"/><circle cx="60.8" cy="555.98" r="1.85"/><circle cx="60.6" cy="554" r="1.85"/><circle cx="61.8" cy="553.2" r="1.85"/><circle cx="63" cy="552.4" r="1.85"/><circle cx="63.23" cy="550.3" r="1.85"/><circle cx="63.47" cy="548.2" r="1.85"/><circle cx="63.7" cy="546.1" r="1.85"/><circle cx="63.7" cy="544.15" r="1.85"/><circle cx="63.7" cy="542.2" r="1.85"/><circle cx="65.3" cy="541.8" r="1.85"/><circle cx="66.9" cy="541.4" r="1.85"/><circle cx="66.9" cy="539.42" r="1.85"/><circle cx="66.9" cy="537.45" r="1.85"/><circle cx="66.9" cy="535.48" r="1.85"/><circle cx="66.9" cy="533.5" r="1.85"/><circle cx="68.45" cy="532.75" r="1.85"/><circle cx="70" cy="532" r="1.85"/><circle cx="71.6" cy="532.35" r="1.85"/><circle cx="73.2" cy="532.7" r="1.85"/><circle cx="74.4" cy="531.15" r="1.85"/><circle cx="75.6" cy="529.6" r="1.85"/><circle cx="76.37" cy="528.3" r="1.85"/><circle cx="77.13" cy="527" r="1.85"/><circle cx="77.9" cy="525.7" r="1.85"/><circle cx="79.5" cy="524.5" r="1.85"/><circle cx="81.1" cy="523.3" r="1.85"/><circle cx="81.1" cy="521.47" r="1.85"/><circle cx="81.1" cy="519.63" r="1.85"/><circle cx="81.1" cy="517.8" r="1.85"/><circle cx="82.25" cy="516.6" r="1.85"/><circle cx="83.4" cy="515.4" r="1.85"/><circle cx="84.73" cy="514.63" r="1.85"/><circle cx="86.07" cy="513.87" r="1.85"/><circle cx="87.4" cy="513.1" r="1.85"/><circle cx="87.4" cy="511" r="1.85"/><circle cx="87.4" cy="508.9" r="1.85"/><circle cx="87.4" cy="506.8" r="1.85"/><circle cx="87.4" cy="504.7" r="1.85"/><circle cx="87.4" cy="502.6" r="1.85"/><circle cx="87.4" cy="500.5" r="1.85"/><circle cx="89.35" cy="499.7" r="1.85"/><circle cx="91.3" cy="498.9" r="1.85"/><circle cx="92.5" cy="497.3" r="1.85"/><circle cx="93.7" cy="495.7" r="1.85"/><circle cx="95.1" cy="494.65" r="1.85"/><circle cx="96.5" cy="493.6" r="1.85"/><circle cx="97.47" cy="492.13" r="1.85"/><circle cx="98.43" cy="490.67" r="1.85"/><circle cx="99.4" cy="489.2" r="1.85"/><circle cx="99.4" cy="487.05" r="1.85"/><circle cx="99.4" cy="484.9" r="1.85"/><circle cx="100.37" cy="483.67" r="1.85"/><circle cx="101.33" cy="482.43" r="1.85"/><circle cx="102.3" cy="481.2" r="1.85"/><circle cx="104.23" cy="480.87" r="1.85"/><circle cx="106.17" cy="480.53" r="1.85"/><circle cx="108.1" cy="480.2" r="1.85"/><circle cx="110.07" cy="480.03" r="1.85"/><circle cx="112.03" cy="479.87" r="1.85"/><circle cx="114" cy="479.7" r="1.85"/><circle cx="114.97" cy="478.5" r="1.85"/><circle cx="115.93" cy="477.3" r="1.85"/><circle cx="116.9" cy="476.1" r="1.85"/><circle cx="118.6" cy="475.37" r="1.85"/><circle cx="120.3" cy="474.63" r="1.85"/><circle cx="122" cy="473.9" r="1.85"/><circle cx="123.1" cy="473.55" r="1.85"/><circle cx="124.2" cy="473.2" r="1.85"/><circle cx="125.9" cy="472.7" r="1.85"/><circle cx="127.6" cy="472.2" r="1.85"/><circle cx="129.3" cy="471.7" r="1.85"/><circle cx="129.65" cy="469.9" r="1.85"/><circle cx="130" cy="468.1" r="1.85"/><circle cx="130.73" cy="466.63" r="1.85"/><circle cx="131.47" cy="465.17" r="1.85"/><circle cx="132.2" cy="463.7" r="1.85"/><circle cx="132.95" cy="462.6" r="1.85"/><circle cx="133.7" cy="461.5" r="1.85"/><circle cx="135.4" cy="460.77" r="1.85"/><circle cx="137.1" cy="460.03" r="1.85"/><circle cx="138.8" cy="459.3" r="1.85"/><circle cx="140.6" cy="458.55" r="1.85"/><circle cx="142.4" cy="457.8" r="1.85"/><circle cx="143.63" cy="456.83" r="1.85"/><circle cx="144.87" cy="455.87" r="1.85"/><circle cx="146.1" cy="454.9" r="1.85"/><circle cx="146.33" cy="452.97" r="1.85"/><circle cx="146.57" cy="451.03" r="1.85"/><circle cx="146.8" cy="449.1" r="1.85"/><circle cx="148.65" cy="448" r="1.85"/><circle cx="150.5" cy="446.9" r="1.85"/><circle cx="151.95" cy="446.15" r="1.85"/><circle cx="153.4" cy="445.4" r="1.85"/><circle cx="153.05" cy="444.3" r="1.85"/><circle cx="152.7" cy="443.2" r="1.85"/><circle cx="154.4" cy="443.47" r="1.85"/><circle cx="156.1" cy="443.73" r="1.85"/><circle cx="157.8" cy="444" r="1.85"/><circle cx="159.8" cy="444" r="1.85"/><circle cx="161.8" cy="444" r="1.85"/><circle cx="163.8" cy="444" r="1.85"/><circle cx="165.8" cy="444" r="1.85"/><circle cx="165.57" cy="442.53" r="1.85"/><circle cx="165.33" cy="441.07" r="1.85"/><circle cx="165.1" cy="439.6" r="1.85"/><circle cx="167.03" cy="439.2" r="1.85"/><circle cx="168.97" cy="438.8" r="1.85"/><circle cx="170.9" cy="438.4" r="1.85"/><circle cx="172.5" cy="438.05" r="1.85"/><circle cx="174.1" cy="437.7" r="1.85"/><circle cx="175.5" cy="437.95" r="1.85"/><circle cx="176.9" cy="438.2" r="1.85"/><circle cx="178.8" cy="437.6" r="1.85"/><circle cx="180.7" cy="437" r="1.85"/><circle cx="182.6" cy="436.4" r="1.85"/><circle cx="185.3" cy="435" r="1.85"/><circle cx="188.9" cy="434.8" r="1.85"/></g>
<path d="M51.8,572.2 L57.4,570.1 L61.4,569.7 L61.4,561.9 L60.6,554 L63,552.4 L63.7,546.1 L63.7,542.2 L66.9,541.4 L66.9,533.5 L70,532 L73.2,532.7 L75.6,529.6 L77.9,525.7 L81.1,523.3 L81.1,517.8 L83.4,515.4 L87.4,513.1 L87.4,506.8 L87.4,500.5 L91.3,498.9 L93.7,495.7 L96.5,493.6 L99.4,489.2 L99.4,484.9 L102.3,481.2 L108.1,480.2 L114,479.7 L116.9,476.1 L122,473.9 L124.2,473.2 L129.3,471.7 L130,468.1 L132.2,463.7 L133.7,461.5 L138.8,459.3 L142.4,457.8 L146.1,454.9 L146.8,449.1 L150.5,446.9 L153.4,445.4 L152.7,443.2 L157.8,444 L165.8,444 L165.1,439.6 L170.9,438.4 L174.1,437.7 L176.9,438.2 L182.6,436.4 L185.3,435 L188.9,434.8" fill="none" stroke="#000" stroke-width="0.9" stroke-linejoin="round"/>
<line x1="265.7" y1="570.8" x2="408.2" y2="428.3" stroke="#ff7f6e" stroke-width="1"/>
<path d="M260,428.3H265.7V570.8H408.2V576.5" fill="none" stroke="#111" stroke-width="1.6"/>
<path d="M260,570.8H265.7M265.7,570.8V576.5M260,542.3H265.7M294.2,570.8V576.5M260,513.8H265.7M322.7,570.8V576.5M260,485.3H265.7M351.2,570.8V576.5M260,456.8H265.7M379.7,570.8V576.5M260,428.3H265.7M408.2,570.8V576.5" fill="none" stroke="#111" stroke-width="1.6"/>
<g font-size="10.84"><text x="258.7" y="574.68" text-anchor="end">0</text><text x="265.7" y="587.96" text-anchor="middle">0</text><text x="258.7" y="546.18" text-anchor="end">20</text><text x="294.2" y="587.96" text-anchor="middle">20</text><text x="258.7" y="517.68" text-anchor="end">40</text><text x="322.7" y="587.96" text-anchor="middle">40</text><text x="258.7" y="489.18" text-anchor="end">60</text><text x="351.2" y="587.96" text-anchor="middle">60</text><text x="258.7" y="460.68" text-anchor="end">80</text><text x="379.7" y="587.96" text-anchor="middle">80</text><text x="258.7" y="432.18" text-anchor="end">100</text><text x="408.2" y="587.96" text-anchor="middle">100</text></g>
<text x="336.95" y="605.61" text-anchor="middle" font-size="11.46">100% - Specificity%</text>
<text transform="translate(232.4,499.55) rotate(-90)" text-anchor="middle" font-size="11.46">Sensitivity%</text>
<g fill="#000" fill-opacity="1.0"><circle cx="265.8" cy="570.6" r="1.8"/><circle cx="267.78" cy="570.59" r="1.8"/><circle cx="269.77" cy="570.58" r="1.8"/><circle cx="271.75" cy="570.57" r="1.8"/><circle cx="273.74" cy="570.56" r="1.8"/><circle cx="275.72" cy="570.55" r="1.8"/><circle cx="277.71" cy="570.54" r="1.8"/><circle cx="279.69" cy="570.53" r="1.8"/><circle cx="281.67" cy="570.52" r="1.8"/><circle cx="283.66" cy="570.51" r="1.8"/><circle cx="285.64" cy="570.49" r="1.8"/><circle cx="287.63" cy="570.48" r="1.8"/><circle cx="289.61" cy="570.47" r="1.8"/><circle cx="291.59" cy="570.46" r="1.8"/><circle cx="293.58" cy="570.45" r="1.8"/><circle cx="295.56" cy="570.44" r="1.8"/><circle cx="297.55" cy="570.43" r="1.8"/><circle cx="299.53" cy="570.42" r="1.8"/><circle cx="301.52" cy="570.41" r="1.8"/><circle cx="303.5" cy="570.4" r="1.8"/><circle cx="304.5" cy="569.6" r="1.8"/><circle cx="305.5" cy="568.8" r="1.8"/><circle cx="306.4" cy="567.7" r="1.8"/><circle cx="307.3" cy="566.6" r="1.8"/><circle cx="307.6" cy="564.87" r="1.8"/><circle cx="307.9" cy="563.13" r="1.8"/><circle cx="308.2" cy="561.4" r="1.8"/><circle cx="308.33" cy="559.93" r="1.8"/><circle cx="308.47" cy="558.47" r="1.8"/><circle cx="308.6" cy="557" r="1.8"/><circle cx="308.6" cy="555.16" r="1.8"/><circle cx="308.6" cy="553.32" r="1.8"/><circle cx="308.6" cy="551.48" r="1.8"/><circle cx="308.6" cy="549.64" r="1.8"/><circle cx="308.6" cy="547.8" r="1.8"/><circle cx="310.15" cy="547" r="1.8"/><circle cx="311.7" cy="546.2" r="1.8"/><circle cx="311.7" cy="544.25" r="1.8"/><circle cx="311.7" cy="542.3" r="1.8"/><circle cx="312.2" cy="541" r="1.8"/><circle cx="312.7" cy="539.7" r="1.8"/><circle cx="313.2" cy="538.4" r="1.8"/><circle cx="313.73" cy="536.87" r="1.8"/><circle cx="314.27" cy="535.33" r="1.8"/><circle cx="314.8" cy="533.8" r="1.8"/><circle cx="315.95" cy="532.2" r="1.8"/><circle cx="317.1" cy="530.6" r="1.8"/><circle cx="318.7" cy="529.45" r="1.8"/><circle cx="320.3" cy="528.3" r="1.8"/><circle cx="320.53" cy="526.73" r="1.8"/><circle cx="320.77" cy="525.17" r="1.8"/><circle cx="321" cy="523.6" r="1.8"/><circle cx="321.2" cy="522.05" r="1.8"/><circle cx="321.4" cy="520.5" r="1.8"/><circle cx="321.6" cy="518.95" r="1.8"/><circle cx="321.8" cy="517.4" r="1.8"/><circle cx="322" cy="515.85" r="1.8"/><circle cx="322.2" cy="514.3" r="1.8"/><circle cx="322.4" cy="512.75" r="1.8"/><circle cx="322.6" cy="511.2" r="1.8"/><circle cx="323" cy="509.62" r="1.8"/><circle cx="323.4" cy="508.05" r="1.8"/><circle cx="323.8" cy="506.47" r="1.8"/><circle cx="324.2" cy="504.9" r="1.8"/><circle cx="324.7" cy="503.37" r="1.8"/><circle cx="325.2" cy="501.83" r="1.8"/><circle cx="325.7" cy="500.3" r="1.8"/><circle cx="326.23" cy="499" r="1.8"/><circle cx="326.77" cy="497.7" r="1.8"/><circle cx="327.3" cy="496.4" r="1.8"/><circle cx="328.05" cy="495.2" r="1.8"/><circle cx="328.8" cy="494" r="1.8"/><circle cx="328.9" cy="492.45" r="1.8"/><circle cx="329" cy="490.9" r="1.8"/><circle cx="329.1" cy="489.35" r="1.8"/><circle cx="329.2" cy="487.8" r="1.8"/><circle cx="329.08" cy="485.9" r="1.8"/><circle cx="328.96" cy="484" r="1.8"/><circle cx="328.84" cy="482.1" r="1.8"/><circle cx="328.72" cy="480.2" r="1.8"/><circle cx="328.6" cy="478.3" r="1.8"/><circle cx="328.7" cy="476.55" r="1.8"/><circle cx="328.8" cy="474.8" r="1.8"/><circle cx="328.9" cy="473.05" r="1.8"/><circle cx="329" cy="471.3" r="1.8"/><circle cx="329.47" cy="469.47" r="1.8"/><circle cx="329.93" cy="467.63" r="1.8"/><circle cx="330.4" cy="465.8" r="1.8"/><circle cx="330.87" cy="463.93" r="1.8"/><circle cx="331.33" cy="462.07" r="1.8"/><circle cx="331.8" cy="460.2" r="1.8"/><circle cx="332.27" cy="458.83" r="1.8"/><circle cx="332.73" cy="457.47" r="1.8"/><circle cx="333.2" cy="456.1" r="1.8"/><circle cx="334.8" cy="455.17" r="1.8"/><circle cx="336.4" cy="454.23" r="1.8"/><circle cx="338" cy="453.3" r="1.8"/><circle cx="338.47" cy="451.9" r="1.8"/><circle cx="338.93" cy="450.5" r="1.8"/><circle cx="339.4" cy="449.1" r="1.8"/><circle cx="339.4" cy="447.4" r="1.8"/><circle cx="339.4" cy="445.7" r="1.8"/><circle cx="341.15" cy="445" r="1.8"/><circle cx="342.9" cy="444.3" r="1.8"/><circle cx="343.07" cy="442.73" r="1.8"/><circle cx="343.25" cy="441.15" r="1.8"/><circle cx="343.43" cy="439.57" r="1.8"/><circle cx="343.6" cy="438" r="1.8"/><circle cx="345.15" cy="437.82" r="1.8"/><circle cx="346.7" cy="437.65" r="1.8"/><circle cx="348.25" cy="437.48" r="1.8"/><circle cx="349.8" cy="437.3" r="1.8"/><circle cx="351.2" cy="436.87" r="1.8"/><circle cx="352.6" cy="436.43" r="1.8"/><circle cx="354" cy="436" r="1.8"/><circle cx="354.7" cy="434.6" r="1.8"/><circle cx="355.4" cy="433.2" r="1.8"/><circle cx="357" cy="432.5" r="1.8"/><circle cx="358.6" cy="431.8" r="1.8"/><circle cx="360.2" cy="431.1" r="1.8"/><circle cx="362.07" cy="431.33" r="1.8"/><circle cx="363.93" cy="431.57" r="1.8"/><circle cx="365.8" cy="431.8" r="1.8"/><circle cx="367.17" cy="431.57" r="1.8"/><circle cx="368.53" cy="431.33" r="1.8"/><circle cx="369.9" cy="431.1" r="1.8"/><circle cx="371.65" cy="430.4" r="1.8"/><circle cx="373.4" cy="429.7" r="1.8"/><circle cx="374.57" cy="429" r="1.8"/><circle cx="375.73" cy="428.3" r="1.8"/><circle cx="376.9" cy="427.6" r="1.8"/><circle cx="378.56" cy="427.74" r="1.8"/><circle cx="380.22" cy="427.88" r="1.8"/><circle cx="381.88" cy="428.02" r="1.8"/><circle cx="383.54" cy="428.16" r="1.8"/><circle cx="385.2" cy="428.3" r="1.8"/><circle cx="386.86" cy="428.3" r="1.8"/><circle cx="388.52" cy="428.3" r="1.8"/><circle cx="390.18" cy="428.3" r="1.8"/><circle cx="391.84" cy="428.3" r="1.8"/><circle cx="393.5" cy="428.3" r="1.8"/><circle cx="395.23" cy="428.3" r="1.8"/><circle cx="396.95" cy="428.3" r="1.8"/><circle cx="398.67" cy="428.3" r="1.8"/><circle cx="400.4" cy="428.3" r="1.8"/><circle cx="402.3" cy="428.3" r="1.8"/><circle cx="404.2" cy="428.3" r="1.8"/><circle cx="406.1" cy="428.3" r="1.8"/><circle cx="408" cy="428.3" r="1.8"/></g>
<path d="M265.8,570.6 L303.5,570.4 L305.5,568.8 L307.3,566.6 L308.2,561.4 L308.6,557 L308.6,547.8 L311.7,546.2 L311.7,542.3 L313.2,538.4 L314.8,533.8 L317.1,530.6 L320.3,528.3 L321,523.6 L321.8,517.4 L322.6,511.2 L324.2,504.9 L325.7,500.3 L327.3,496.4 L328.8,494 L329.2,487.8 L328.6,478.3 L329,471.3 L330.4,465.8 L331.8,460.2 L333.2,456.1 L338,453.3 L339.4,449.1 L339.4,445.7 L342.9,444.3 L343.6,438 L349.8,437.3 L354,436 L355.4,433.2 L360.2,431.1 L365.8,431.8 L369.9,431.1 L373.4,429.7 L376.9,427.6 L385.2,428.3 L393.5,428.3 L400.4,428.3 L408,428.3" fill="none" stroke="#000" stroke-width="0.9" stroke-linejoin="round"/>
<line x1="482.9" y1="570" x2="628.3" y2="424.6" stroke="#ff7f6e" stroke-width="1"/>
<path d="M477.2,424.6H482.9V570H628.3V575.7" fill="none" stroke="#111" stroke-width="1.6"/>
<path d="M477.2,570H482.9M482.9,570V575.7M477.2,540.92H482.9M511.98,570V575.7M477.2,511.84H482.9M541.06,570V575.7M477.2,482.76H482.9M570.14,570V575.7M477.2,453.68H482.9M599.22,570V575.7M477.2,424.6H482.9M628.3,570V575.7" fill="none" stroke="#111" stroke-width="1.6"/>
<g font-size="11.06"><text x="475.9" y="573.96" text-anchor="end">0</text><text x="482.9" y="587.32" text-anchor="middle">0</text><text x="475.9" y="544.88" text-anchor="end">20</text><text x="511.98" y="587.32" text-anchor="middle">20</text><text x="475.9" y="515.8" text-anchor="end">40</text><text x="541.06" y="587.32" text-anchor="middle">40</text><text x="475.9" y="486.72" text-anchor="end">60</text><text x="570.14" y="587.32" text-anchor="middle">60</text><text x="475.9" y="457.64" text-anchor="end">80</text><text x="599.22" y="587.32" text-anchor="middle">80</text><text x="475.9" y="428.56" text-anchor="end">100</text><text x="628.3" y="587.32" text-anchor="middle">100</text></g>
<text x="555.6" y="604.97" text-anchor="middle" font-size="11.7">100% - Specificity%</text>
<text transform="translate(448.92,497.3) rotate(-90)" text-anchor="middle" font-size="11.7">Sensitivity%</text>
<g fill="#000" fill-opacity="0.9"><circle cx="482.8" cy="570" r="1.75"/><circle cx="482.8" cy="568.1" r="1.75"/><circle cx="482.8" cy="566.2" r="1.75"/><circle cx="482.8" cy="564.3" r="1.75"/><circle cx="482.8" cy="562.4" r="1.75"/><circle cx="482.8" cy="560.5" r="1.75"/><circle cx="482.8" cy="558.6" r="1.75"/><circle cx="482.8" cy="556.7" r="1.75"/><circle cx="482.8" cy="554.8" r="1.75"/><circle cx="482.8" cy="552.9" r="1.75"/><circle cx="482.8" cy="551" r="1.75"/><circle cx="483.2" cy="549.53" r="1.75"/><circle cx="483.6" cy="548.07" r="1.75"/><circle cx="484" cy="546.6" r="1.75"/><circle cx="484.23" cy="544.67" r="1.75"/><circle cx="484.45" cy="542.75" r="1.75"/><circle cx="484.67" cy="540.83" r="1.75"/><circle cx="484.9" cy="538.9" r="1.75"/><circle cx="485.08" cy="537.18" r="1.75"/><circle cx="485.26" cy="535.46" r="1.75"/><circle cx="485.44" cy="533.74" r="1.75"/><circle cx="485.62" cy="532.02" r="1.75"/><circle cx="485.8" cy="530.3" r="1.75"/><circle cx="487.5" cy="529.85" r="1.75"/><circle cx="489.2" cy="529.4" r="1.75"/><circle cx="489.62" cy="527.9" r="1.75"/><circle cx="490.05" cy="526.4" r="1.75"/><circle cx="490.47" cy="524.9" r="1.75"/><circle cx="490.9" cy="523.4" r="1.75"/><circle cx="492.07" cy="522.53" r="1.75"/><circle cx="493.23" cy="521.67" r="1.75"/><circle cx="494.4" cy="520.8" r="1.75"/><circle cx="494.6" cy="519.07" r="1.75"/><circle cx="494.8" cy="517.35" r="1.75"/><circle cx="495" cy="515.62" r="1.75"/><circle cx="495.2" cy="513.9" r="1.75"/><circle cx="496.07" cy="512.2" r="1.75"/><circle cx="496.93" cy="510.5" r="1.75"/><circle cx="497.8" cy="508.8" r="1.75"/><circle cx="498.97" cy="507.63" r="1.75"/><circle cx="500.13" cy="506.47" r="1.75"/><circle cx="501.3" cy="505.3" r="1.75"/><circle cx="501.87" cy="503.87" r="1.75"/><circle cx="502.43" cy="502.43" r="1.75"/><circle cx="503" cy="501" r="1.75"/><circle cx="503.87" cy="499.27" r="1.75"/><circle cx="504.73" cy="497.53" r="1.75"/><circle cx="505.6" cy="495.8" r="1.75"/><circle cx="507.03" cy="494.97" r="1.75"/><circle cx="508.47" cy="494.13" r="1.75"/><circle cx="509.9" cy="493.3" r="1.75"/><circle cx="511.6" cy="493.7" r="1.75"/><circle cx="513.3" cy="494.1" r="1.75"/><circle cx="513.52" cy="492.38" r="1.75"/><circle cx="513.75" cy="490.65" r="1.75"/><circle cx="513.98" cy="488.93" r="1.75"/><circle cx="514.2" cy="487.2" r="1.75"/><circle cx="515.07" cy="486.07" r="1.75"/><circle cx="515.93" cy="484.93" r="1.75"/><circle cx="516.8" cy="483.8" r="1.75"/><circle cx="517.65" cy="482.05" r="1.75"/><circle cx="518.5" cy="480.3" r="1.75"/><circle cx="519.67" cy="479.13" r="1.75"/><circle cx="520.83" cy="477.97" r="1.75"/><circle cx="522" cy="476.8" r="1.75"/><circle cx="522.67" cy="475.27" r="1.75"/><circle cx="523.33" cy="473.73" r="1.75"/><circle cx="524" cy="472.2" r="1.75"/><circle cx="525.52" cy="471.62" r="1.75"/><circle cx="527.04" cy="471.04" r="1.75"/><circle cx="528.56" cy="470.46" r="1.75"/><circle cx="530.08" cy="469.88" r="1.75"/><circle cx="531.6" cy="469.3" r="1.75"/><circle cx="533.37" cy="468.43" r="1.75"/><circle cx="535.13" cy="467.57" r="1.75"/><circle cx="536.9" cy="466.7" r="1.75"/><circle cx="538.48" cy="465.82" r="1.75"/><circle cx="540.06" cy="464.94" r="1.75"/><circle cx="541.64" cy="464.06" r="1.75"/><circle cx="543.22" cy="463.18" r="1.75"/><circle cx="544.8" cy="462.3" r="1.75"/><circle cx="546.32" cy="461.85" r="1.75"/><circle cx="547.85" cy="461.4" r="1.75"/><circle cx="549.38" cy="460.95" r="1.75"/><circle cx="550.9" cy="460.5" r="1.75"/><circle cx="551.5" cy="459.07" r="1.75"/><circle cx="552.1" cy="457.63" r="1.75"/><circle cx="552.7" cy="456.2" r="1.75"/><circle cx="553.78" cy="455.1" r="1.75"/><circle cx="554.85" cy="454" r="1.75"/><circle cx="555.92" cy="452.9" r="1.75"/><circle cx="557" cy="451.8" r="1.75"/><circle cx="558.77" cy="451.2" r="1.75"/><circle cx="560.53" cy="450.6" r="1.75"/><circle cx="562.3" cy="450" r="1.75"/><circle cx="563.77" cy="450.3" r="1.75"/><circle cx="565.23" cy="450.6" r="1.75"/><circle cx="566.7" cy="450.9" r="1.75"/><circle cx="567" cy="449.43" r="1.75"/><circle cx="567.3" cy="447.97" r="1.75"/><circle cx="567.6" cy="446.5" r="1.75"/><circle cx="569.12" cy="445.62" r="1.75"/><circle cx="570.65" cy="444.75" r="1.75"/><circle cx="572.18" cy="443.88" r="1.75"/><circle cx="573.7" cy="443" r="1.75"/><circle cx="574.57" cy="441.57" r="1.75"/><circle cx="575.43" cy="440.13" r="1.75"/><circle cx="576.3" cy="438.7" r="1.75"/><circle cx="578.07" cy="438.1" r="1.75"/><circle cx="579.83" cy="437.5" r="1.75"/><circle cx="581.6" cy="436.9" r="1.75"/><circle cx="583.07" cy="437.2" r="1.75"/><circle cx="584.53" cy="437.5" r="1.75"/><circle cx="586" cy="437.8" r="1.75"/><circle cx="586.27" cy="436.33" r="1.75"/><circle cx="586.53" cy="434.87" r="1.75"/><circle cx="586.8" cy="433.4" r="1.75"/><circle cx="588.57" cy="433.4" r="1.75"/><circle cx="590.33" cy="433.4" r="1.75"/><circle cx="592.1" cy="433.4" r="1.75"/><circle cx="594.08" cy="433.4" r="1.75"/><circle cx="596.05" cy="433.4" r="1.75"/><circle cx="598.02" cy="433.4" r="1.75"/><circle cx="600" cy="433.4" r="1.75"/><circle cx="600.85" cy="431.65" r="1.75"/><circle cx="601.7" cy="429.9" r="1.75"/><circle cx="603.45" cy="429" r="1.75"/><circle cx="605.2" cy="428.1" r="1.75"/><circle cx="607.18" cy="428.33" r="1.75"/><circle cx="609.15" cy="428.55" r="1.75"/><circle cx="611.12" cy="428.77" r="1.75"/><circle cx="613.1" cy="429" r="1.75"/><circle cx="614.85" cy="428.15" r="1.75"/><circle cx="616.6" cy="427.3" r="1.75"/><circle cx="617.77" cy="426.4" r="1.75"/><circle cx="618.93" cy="425.5" r="1.75"/><circle cx="620.1" cy="424.6" r="1.75"/><circle cx="621.78" cy="424.58" r="1.75"/><circle cx="623.46" cy="424.56" r="1.75"/><circle cx="625.14" cy="424.54" r="1.75"/><circle cx="626.82" cy="424.52" r="1.75"/><circle cx="628.5" cy="424.5" r="1.75"/></g>
<path d="M482.8,570 L482.8,551 L484,546.6 L484.9,538.9 L485.8,530.3 L489.2,529.4 L490.9,523.4 L494.4,520.8 L495.2,513.9 L497.8,508.8 L501.3,505.3 L503,501 L505.6,495.8 L509.9,493.3 L513.3,494.1 L514.2,487.2 L516.8,483.8 L518.5,480.3 L522,476.8 L524,472.2 L531.6,469.3 L536.9,466.7 L544.8,462.3 L550.9,460.5 L552.7,456.2 L557,451.8 L562.3,450 L566.7,450.9 L567.6,446.5 L573.7,443 L576.3,438.7 L581.6,436.9 L586,437.8 L586.8,433.4 L592.1,433.4 L600,433.4 L601.7,429.9 L605.2,428.1 L613.1,429 L616.6,427.3 L620.1,424.6 L628.5,424.5" fill="none" stroke="#000" stroke-width="0.9" stroke-linejoin="round"/>
<text x="0.9" y="12" font-size="16.5">A</text>
<text x="220" y="12.3" font-size="16.5">B</text>
<text x="439" y="12.3" font-size="16.5">C</text>
<text x="0.7" y="210.8" font-size="16">D</text>
<text x="221" y="210.5" font-size="16">E</text>
<text x="440.7" y="210.1" font-size="16">F</text>
<text x="0.3" y="428.1" font-size="16">G</text>
<text x="224.5" y="416.9" font-size="16.5">H</text>
<text x="440.3" y="427.4" font-size="16">I</text>
<text x="647.3" y="83" font-size="16">CRP</text>
<text x="647" y="275.2" font-size="16">ESR</text>
<text x="647.3" y="490.8" font-size="16">WBC</text>
</svg>
</body></html>
